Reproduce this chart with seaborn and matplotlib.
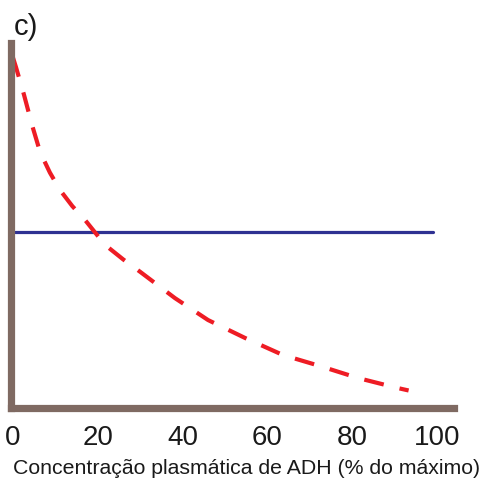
import numpy as np
import pandas as pd
import matplotlib
matplotlib.use("Agg")
import matplotlib.pyplot as plt
import seaborn as sns

sns.set_style("white")
plt.rcParams["font.family"] = ["Liberation Sans", "DejaVu Sans"]

# ── Data ──────────────────────────────────────────────────
adh_pct = [0, 0.7, 2.6, 4.5, 6.4, 8.7, 11.1, 14, 17, 21.7, 26, 30, 38.2, 46,
           54.7, 63.7, 72.4, 81.4, 90.6, 93.3]
red_curve = [96, 93.4, 85.8, 77.5, 70.1, 64.5, 59.7, 55.3, 51.5, 44.7, 40.7,
             37.3, 30.1, 24.1, 19.2, 14.5, 11.5, 8.2, 5.5, 4.8]
blue_x = [0.5, 99]
blue_y = [48.2, 48.2]
xticks = [0, 20, 40, 60, 80, 100]

df_red = pd.DataFrame({"x": adh_pct, "y": red_curve})
df_blue = pd.DataFrame({"x": blue_x, "y": blue_y})

W, H = 485, 482
fig = plt.figure(figsize=(W / 100, H / 100), dpi=100)
ax = fig.add_axes([11.5 / W, (H - 408) / H, (454 - 11.5) / W, (408 - 43) / H])

sns.lineplot(data=df_blue, x="x", y="y", ax=ax, color="#2e3192", linewidth=2.3)
sns.lineplot(data=df_red, x="x", y="y", ax=ax, color="#ee1c24", linewidth=3.0)
ax.lines[-1].set_dashes([4.8, 3.9])
ax.lines[-1].set_dash_capstyle("butt")

ax.set_xlim(-0.35, 104.0)
ax.set_ylim(0, 100)

spine_col = "#7f6a62"
for side in ["top", "right"]:
    ax.spines[side].set_visible(False)
for side in ["left", "bottom"]:
    ax.spines[side].set_color(spine_col)
    ax.spines[side].set_linewidth(5.2)
    ax.spines[side].set_capstyle("projecting")

ax.set_yticks([])
ax.set_xticks(xticks)
ax.set_xticklabels([str(t) for t in xticks])
ax.tick_params(axis="x", length=0, pad=12, labelsize=20, labelcolor="#1a1a1a")
ax.set_xlabel("Concentração plasmática de ADH (% do máximo)", fontsize=15.3,
              color="#1a1a1a")
ax.xaxis.set_label_coords((247 - 11.5) / (454 - 11.5), -(468 - 408) / (408 - 43))
ax.xaxis.label.set_va("center")
ax.set_ylabel("")

fig.text(14 / W, 1 - 27 / H, "c)", fontsize=21, va="center", ha="left", color="#1a1a1a")

plt.savefig("out.png", dpi=100)
